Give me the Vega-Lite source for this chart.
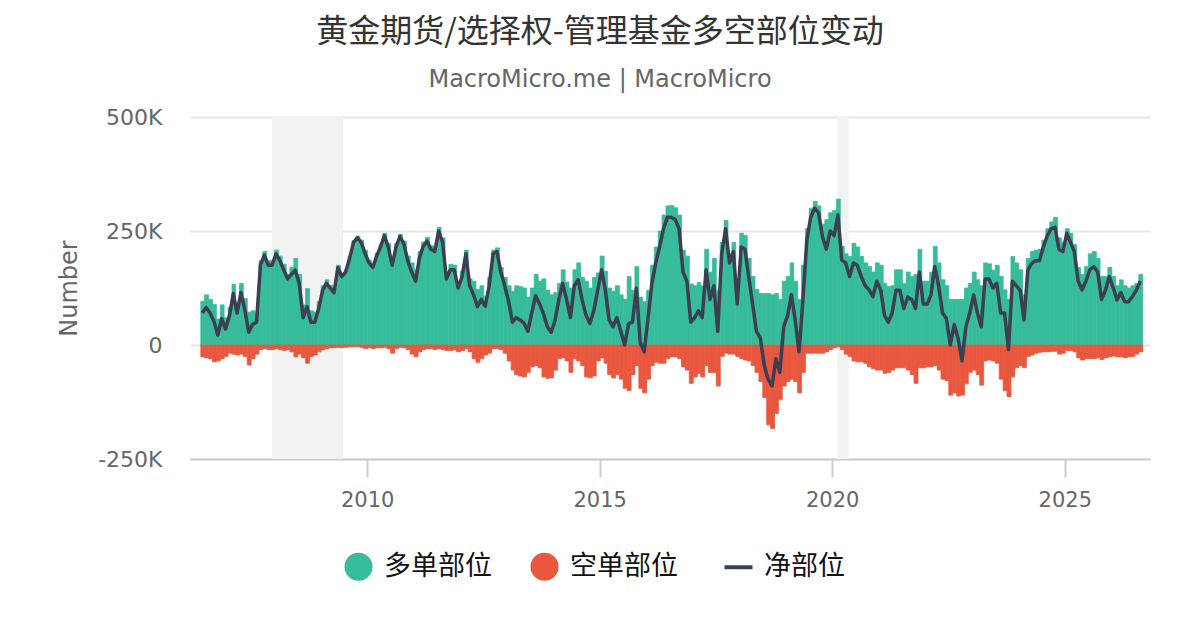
{
  "$schema": "https://vega.github.io/schema/vega-lite/v6.json",
  "width": 960,
  "height": 342,
  "autosize": "none",
  "padding": {"left": 190, "top": 117, "right": 50, "bottom": 171},
  "background": "white",
  "title": {
    "text": "黄金期货/选择权-管理基金多空部位变动",
    "subtitle": "MacroMicro.me | MacroMicro",
    "anchor": "middle",
    "dx": -70,
    "offset": 13,
    "font": "Noto Sans CJK SC",
    "fontSize": 32,
    "fontWeight": "normal",
    "color": "#333333",
    "subtitleFont": "DejaVu Sans",
    "subtitleFontSize": 24,
    "subtitleColor": "#666666",
    "subtitlePadding": 19
  },
  "datasets": {
    "recessions": [
      {"start": "2007-12-15", "end": "2009-06-25"},
      {"start": "2020-02-10", "end": "2020-05-10"}
    ],
    "cot": [
      {"date": "2006-06", "long": 96, "short": -26, "net": 70},
      {"date": "2006-07", "long": 110, "short": -28, "net": 82},
      {"date": "2006-08", "long": 100, "short": -30, "net": 70},
      {"date": "2006-09", "long": 89, "short": -37, "net": 52},
      {"date": "2006-10", "long": 57, "short": -35, "net": 22},
      {"date": "2006-11", "long": 88, "short": -30, "net": 58},
      {"date": "2006-12", "long": 60, "short": -25, "net": 35},
      {"date": "2007-01", "long": 83, "short": -18, "net": 65},
      {"date": "2007-02", "long": 133, "short": -20, "net": 113},
      {"date": "2007-03", "long": 92, "short": -22, "net": 70},
      {"date": "2007-04", "long": 135, "short": -20, "net": 115},
      {"date": "2007-05", "long": 102, "short": -25, "net": 77},
      {"date": "2007-06", "long": 72, "short": -44, "net": 28},
      {"date": "2007-07", "long": 75, "short": -30, "net": 45},
      {"date": "2007-08", "long": 70, "short": -20, "net": 50},
      {"date": "2007-09", "long": 185, "short": -10, "net": 175},
      {"date": "2007-10", "long": 205, "short": -8, "net": 197},
      {"date": "2007-11", "long": 185, "short": -10, "net": 175},
      {"date": "2007-12", "long": 185, "short": -10, "net": 175},
      {"date": "2008-01", "long": 208, "short": -8, "net": 200},
      {"date": "2008-02", "long": 195, "short": -10, "net": 185},
      {"date": "2008-03", "long": 177, "short": -12, "net": 165},
      {"date": "2008-04", "long": 155, "short": -10, "net": 145},
      {"date": "2008-05", "long": 170, "short": -15, "net": 155},
      {"date": "2008-06", "long": 190, "short": -26, "net": 164},
      {"date": "2008-07", "long": 155, "short": -20, "net": 135},
      {"date": "2008-08", "long": 88, "short": -28, "net": 60},
      {"date": "2008-09", "long": 124, "short": -40, "net": 84},
      {"date": "2008-10", "long": 75, "short": -25, "net": 50},
      {"date": "2008-11", "long": 72, "short": -22, "net": 50},
      {"date": "2008-12", "long": 95, "short": -15, "net": 80},
      {"date": "2009-01", "long": 130, "short": -10, "net": 120},
      {"date": "2009-02", "long": 143, "short": -8, "net": 135},
      {"date": "2009-03", "long": 131, "short": -6, "net": 125},
      {"date": "2009-04", "long": 121, "short": -6, "net": 115},
      {"date": "2009-05", "long": 175, "short": -5, "net": 170},
      {"date": "2009-06", "long": 156, "short": -6, "net": 150},
      {"date": "2009-07", "long": 165, "short": -5, "net": 160},
      {"date": "2009-08", "long": 194, "short": -4, "net": 190},
      {"date": "2009-09", "long": 229, "short": -4, "net": 225},
      {"date": "2009-10", "long": 239, "short": -4, "net": 235},
      {"date": "2009-11", "long": 230, "short": -5, "net": 225},
      {"date": "2009-12", "long": 208, "short": -8, "net": 200},
      {"date": "2010-01", "long": 186, "short": -6, "net": 180},
      {"date": "2010-02", "long": 178, "short": -8, "net": 170},
      {"date": "2010-03", "long": 201, "short": -6, "net": 195},
      {"date": "2010-04", "long": 221, "short": -6, "net": 215},
      {"date": "2010-05", "long": 245, "short": -5, "net": 240},
      {"date": "2010-06", "long": 223, "short": -8, "net": 215},
      {"date": "2010-07", "long": 193, "short": -18, "net": 175},
      {"date": "2010-08", "long": 223, "short": -8, "net": 215},
      {"date": "2010-09", "long": 243, "short": -5, "net": 238},
      {"date": "2010-10", "long": 228, "short": -6, "net": 222},
      {"date": "2010-11", "long": 195, "short": -10, "net": 185},
      {"date": "2010-12", "long": 180, "short": -20, "net": 160},
      {"date": "2011-01", "long": 166, "short": -26, "net": 140},
      {"date": "2011-02", "long": 205, "short": -15, "net": 190},
      {"date": "2011-03", "long": 226, "short": -10, "net": 216},
      {"date": "2011-04", "long": 236, "short": -8, "net": 228},
      {"date": "2011-05", "long": 218, "short": -8, "net": 210},
      {"date": "2011-06", "long": 215, "short": -10, "net": 205},
      {"date": "2011-07", "long": 258, "short": -8, "net": 250},
      {"date": "2011-08", "long": 235, "short": -10, "net": 225},
      {"date": "2011-09", "long": 157, "short": -12, "net": 145},
      {"date": "2011-10", "long": 177, "short": -12, "net": 165},
      {"date": "2011-11", "long": 175, "short": -10, "net": 165},
      {"date": "2011-12", "long": 140, "short": -15, "net": 125},
      {"date": "2012-01", "long": 162, "short": -12, "net": 150},
      {"date": "2012-02", "long": 208, "short": -8, "net": 200},
      {"date": "2012-03", "long": 145, "short": -15, "net": 130},
      {"date": "2012-04", "long": 140, "short": -30, "net": 110},
      {"date": "2012-05", "long": 122, "short": -38, "net": 84},
      {"date": "2012-06", "long": 130, "short": -30, "net": 100},
      {"date": "2012-07", "long": 107, "short": -22, "net": 85},
      {"date": "2012-08", "long": 148, "short": -18, "net": 130},
      {"date": "2012-09", "long": 208, "short": -8, "net": 200},
      {"date": "2012-10", "long": 213, "short": -8, "net": 205},
      {"date": "2012-11", "long": 170, "short": -10, "net": 160},
      {"date": "2012-12", "long": 148, "short": -18, "net": 130},
      {"date": "2013-01", "long": 130, "short": -35, "net": 95},
      {"date": "2013-02", "long": 118, "short": -55, "net": 50},
      {"date": "2013-03", "long": 130, "short": -65, "net": 60},
      {"date": "2013-04", "long": 128, "short": -68, "net": 55},
      {"date": "2013-05", "long": 125, "short": -70, "net": 48},
      {"date": "2013-06", "long": 105, "short": -60, "net": 30},
      {"date": "2013-07", "long": 125, "short": -48, "net": 70},
      {"date": "2013-08", "long": 155, "short": -45, "net": 108},
      {"date": "2013-09", "long": 140, "short": -50, "net": 90},
      {"date": "2013-10", "long": 145, "short": -70, "net": 69},
      {"date": "2013-11", "long": 120, "short": -73, "net": 40},
      {"date": "2013-12", "long": 110, "short": -72, "net": 28},
      {"date": "2014-01", "long": 115, "short": -55, "net": 55},
      {"date": "2014-02", "long": 135, "short": -30, "net": 100},
      {"date": "2014-03", "long": 165, "short": -28, "net": 135},
      {"date": "2014-04", "long": 138, "short": -35, "net": 100},
      {"date": "2014-05", "long": 125, "short": -60, "net": 60},
      {"date": "2014-06", "long": 165, "short": -30, "net": 130},
      {"date": "2014-07", "long": 180, "short": -35, "net": 143},
      {"date": "2014-08", "long": 148, "short": -45, "net": 99},
      {"date": "2014-09", "long": 140, "short": -70, "net": 65},
      {"date": "2014-10", "long": 125, "short": -72, "net": 47},
      {"date": "2014-11", "long": 148, "short": -68, "net": 75},
      {"date": "2014-12", "long": 158, "short": -35, "net": 120},
      {"date": "2015-01", "long": 195, "short": -28, "net": 165},
      {"date": "2015-02", "long": 162, "short": -40, "net": 120},
      {"date": "2015-03", "long": 125, "short": -65, "net": 55},
      {"date": "2015-04", "long": 118, "short": -72, "net": 40},
      {"date": "2015-05", "long": 130, "short": -65, "net": 60},
      {"date": "2015-06", "long": 110, "short": -75, "net": 30},
      {"date": "2015-07", "long": 100, "short": -95, "net": 0},
      {"date": "2015-08", "long": 150, "short": -100, "net": 47},
      {"date": "2015-09", "long": 120, "short": -65, "net": 50},
      {"date": "2015-10", "long": 172, "short": -45, "net": 125},
      {"date": "2015-11", "long": 105, "short": -95, "net": 5},
      {"date": "2015-12", "long": 95, "short": -105, "net": -15},
      {"date": "2016-01", "long": 120, "short": -75, "net": 60},
      {"date": "2016-02", "long": 175, "short": -45, "net": 135},
      {"date": "2016-03", "long": 215, "short": -38, "net": 180},
      {"date": "2016-04", "long": 250, "short": -40, "net": 215},
      {"date": "2016-05", "long": 285, "short": -40, "net": 255},
      {"date": "2016-06", "long": 305, "short": -30, "net": 280},
      {"date": "2016-07", "long": 306, "short": -26, "net": 280},
      {"date": "2016-08", "long": 301, "short": -26, "net": 275},
      {"date": "2016-09", "long": 285, "short": -30, "net": 255},
      {"date": "2016-10", "long": 208, "short": -48, "net": 160},
      {"date": "2016-11", "long": 195, "short": -55, "net": 140},
      {"date": "2016-12", "long": 134, "short": -84, "net": 50},
      {"date": "2017-01", "long": 130, "short": -70, "net": 60},
      {"date": "2017-02", "long": 137, "short": -62, "net": 75},
      {"date": "2017-03", "long": 130, "short": -70, "net": 60},
      {"date": "2017-04", "long": 210, "short": -45, "net": 165},
      {"date": "2017-05", "long": 160, "short": -60, "net": 100},
      {"date": "2017-06", "long": 190, "short": -60, "net": 130},
      {"date": "2017-07", "long": 120, "short": -90, "net": 30},
      {"date": "2017-08", "long": 225, "short": -25, "net": 200},
      {"date": "2017-09", "long": 273, "short": -18, "net": 255},
      {"date": "2017-10", "long": 200, "short": -20, "net": 180},
      {"date": "2017-11", "long": 225, "short": -20, "net": 205},
      {"date": "2017-12", "long": 115, "short": -25, "net": 90},
      {"date": "2018-01", "long": 245, "short": -30, "net": 215},
      {"date": "2018-02", "long": 240, "short": -33, "net": 210},
      {"date": "2018-03", "long": 190, "short": -35, "net": 150},
      {"date": "2018-04", "long": 150, "short": -45, "net": 90},
      {"date": "2018-05", "long": 122, "short": -60, "net": 30},
      {"date": "2018-06", "long": 113, "short": -80, "net": 15},
      {"date": "2018-07", "long": 113, "short": -115, "net": -45},
      {"date": "2018-08", "long": 113, "short": -175, "net": -75},
      {"date": "2018-09", "long": 110, "short": -183, "net": -90},
      {"date": "2018-10", "long": 113, "short": -150, "net": -30},
      {"date": "2018-11", "long": 100, "short": -120, "net": -60},
      {"date": "2018-12", "long": 140, "short": -90, "net": 40},
      {"date": "2019-01", "long": 150, "short": -80, "net": 65},
      {"date": "2019-02", "long": 180, "short": -75, "net": 110},
      {"date": "2019-03", "long": 140, "short": -80, "net": 55},
      {"date": "2019-04", "long": 100, "short": -105, "net": -15},
      {"date": "2019-05", "long": 175, "short": -60, "net": 100},
      {"date": "2019-06", "long": 255, "short": -18, "net": 230},
      {"date": "2019-07", "long": 300, "short": -18, "net": 280},
      {"date": "2019-08", "long": 315, "short": -18, "net": 300},
      {"date": "2019-09", "long": 305, "short": -18, "net": 290},
      {"date": "2019-10", "long": 265, "short": -18, "net": 238},
      {"date": "2019-11", "long": 275, "short": -15, "net": 210},
      {"date": "2019-12", "long": 290, "short": -10, "net": 250},
      {"date": "2020-01", "long": 295, "short": -6, "net": 240},
      {"date": "2020-02", "long": 320, "short": -4, "net": 285},
      {"date": "2020-03", "long": 216, "short": -10, "net": 186},
      {"date": "2020-04", "long": 200, "short": -20, "net": 180},
      {"date": "2020-05", "long": 194, "short": -25, "net": 150},
      {"date": "2020-06", "long": 223, "short": -35, "net": 180},
      {"date": "2020-07", "long": 215, "short": -37, "net": 175},
      {"date": "2020-08", "long": 194, "short": -37, "net": 150},
      {"date": "2020-09", "long": 180, "short": -40, "net": 130},
      {"date": "2020-10", "long": 172, "short": -48, "net": 121},
      {"date": "2020-11", "long": 160, "short": -52, "net": 106},
      {"date": "2020-12", "long": 180, "short": -55, "net": 140},
      {"date": "2021-01", "long": 175, "short": -55, "net": 120},
      {"date": "2021-02", "long": 135, "short": -62, "net": 65},
      {"date": "2021-03", "long": 128, "short": -60, "net": 50},
      {"date": "2021-04", "long": 130, "short": -55, "net": 70},
      {"date": "2021-05", "long": 165, "short": -50, "net": 120},
      {"date": "2021-06", "long": 165, "short": -50, "net": 120},
      {"date": "2021-07", "long": 135, "short": -50, "net": 80},
      {"date": "2021-08", "long": 160, "short": -55, "net": 105},
      {"date": "2021-09", "long": 150, "short": -65, "net": 100},
      {"date": "2021-10", "long": 155, "short": -84, "net": 80},
      {"date": "2021-11", "long": 210, "short": -50, "net": 160},
      {"date": "2021-12", "long": 140, "short": -50, "net": 90},
      {"date": "2022-01", "long": 140, "short": -48, "net": 90},
      {"date": "2022-02", "long": 160, "short": -48, "net": 110},
      {"date": "2022-03", "long": 216, "short": -45, "net": 172},
      {"date": "2022-04", "long": 180, "short": -55, "net": 130},
      {"date": "2022-05", "long": 143, "short": -75, "net": 70},
      {"date": "2022-06", "long": 130, "short": -78, "net": 58},
      {"date": "2022-07", "long": 100, "short": -110, "net": 0},
      {"date": "2022-08", "long": 100, "short": -105, "net": 45},
      {"date": "2022-09", "long": 100, "short": -112, "net": 15},
      {"date": "2022-10", "long": 100, "short": -110, "net": -35},
      {"date": "2022-11", "long": 125, "short": -85, "net": 40},
      {"date": "2022-12", "long": 135, "short": -60, "net": 70},
      {"date": "2023-01", "long": 160, "short": -55, "net": 110},
      {"date": "2023-02", "long": 143, "short": -65, "net": 70},
      {"date": "2023-03", "long": 130, "short": -88, "net": 40},
      {"date": "2023-04", "long": 180, "short": -35, "net": 145},
      {"date": "2023-05", "long": 178, "short": -33, "net": 145},
      {"date": "2023-06", "long": 164, "short": -35, "net": 125},
      {"date": "2023-07", "long": 175, "short": -40, "net": 135},
      {"date": "2023-08", "long": 150, "short": -75, "net": 70},
      {"date": "2023-09", "long": 121, "short": -100, "net": 70},
      {"date": "2023-10", "long": 100, "short": -113, "net": -10},
      {"date": "2023-11", "long": 194, "short": -70, "net": 140},
      {"date": "2023-12", "long": 180, "short": -50, "net": 130},
      {"date": "2024-01", "long": 165, "short": -45, "net": 120},
      {"date": "2024-02", "long": 110, "short": -50, "net": 55},
      {"date": "2024-03", "long": 190, "short": -25, "net": 164},
      {"date": "2024-04", "long": 205, "short": -22, "net": 179},
      {"date": "2024-05", "long": 208, "short": -18, "net": 185},
      {"date": "2024-06", "long": 210, "short": -16, "net": 185},
      {"date": "2024-07", "long": 230, "short": -15, "net": 215},
      {"date": "2024-08", "long": 255, "short": -15, "net": 240},
      {"date": "2024-09", "long": 270, "short": -14, "net": 255},
      {"date": "2024-10", "long": 280, "short": -14, "net": 258},
      {"date": "2024-11", "long": 235, "short": -20, "net": 210},
      {"date": "2024-12", "long": 225, "short": -18, "net": 205},
      {"date": "2025-01", "long": 255, "short": -12, "net": 245},
      {"date": "2025-02", "long": 245, "short": -12, "net": 225},
      {"date": "2025-03", "long": 220, "short": -15, "net": 205},
      {"date": "2025-04", "long": 170, "short": -28, "net": 140},
      {"date": "2025-05", "long": 155, "short": -33, "net": 121},
      {"date": "2025-06", "long": 172, "short": -30, "net": 140},
      {"date": "2025-07", "long": 200, "short": -30, "net": 165},
      {"date": "2025-08", "long": 205, "short": -30, "net": 172},
      {"date": "2025-09", "long": 190, "short": -28, "net": 160},
      {"date": "2025-10", "long": 150, "short": -32, "net": 100},
      {"date": "2025-11", "long": 150, "short": -28, "net": 120},
      {"date": "2025-12", "long": 170, "short": -26, "net": 150},
      {"date": "2026-01", "long": 150, "short": -24, "net": 125},
      {"date": "2026-02", "long": 130, "short": -26, "net": 99},
      {"date": "2026-03", "long": 143, "short": -26, "net": 115},
      {"date": "2026-04", "long": 130, "short": -28, "net": 95},
      {"date": "2026-05", "long": 125, "short": -26, "net": 95},
      {"date": "2026-06", "long": 130, "short": -25, "net": 106},
      {"date": "2026-07", "long": 135, "short": -20, "net": 120},
      {"date": "2026-08", "long": 155, "short": -15, "net": 140}
    ]
  },
  "layer": [
    {
      "data": {"name": "recessions"},
      "mark": {"type": "rect", "color": "#f2f2f2"},
      "encoding": {
        "x": {
          "field": "start",
          "type": "temporal",
          "scale": {"type": "utc", "domain": ["2006-03-12", "2026-11-01"]},
          "axis": {
            "title": null,
            "grid": false,
            "values": [
              {"year": 2010, "utc": true},
              {"year": 2015, "utc": true},
              {"year": 2020, "utc": true},
              {"year": 2025, "utc": true}
            ],
            "labelExpr": "utcFormat(datum.value, '%Y')",
            "domainColor": "#cccccc",
            "domainWidth": 2,
            "tickColor": "#cccccc",
            "tickWidth": 2,
            "tickSize": 18,
            "labelPadding": 12,
            "labelFont": "DejaVu Sans",
            "labelFontSize": 21,
            "labelColor": "#666666"
          }
        },
        "x2": {"field": "end"}
      }
    },
    {
      "data": {"name": "cot"},
      "transform": [{"fold": ["long", "short"], "as": ["series", "value"]}],
      "mark": {"type": "bar", "binSpacing": 0, "strokeWidth": 0.8},
      "encoding": {
        "x": {"field": "date", "timeUnit": "utcyearmonth", "type": "temporal"},
        "y": {
          "field": "value",
          "type": "quantitative",
          "stack": null,
          "scale": {"domain": [-250, 500], "nice": false},
          "axis": {
            "title": "Number",
            "values": [-250, 0, 250, 500],
            "labelExpr": "datum.value === 0 ? '0' : datum.value + 'K'",
            "domain": false,
            "ticks": false,
            "labelPadding": 28,
            "gridColor": "#e6e6e6",
            "gridWidth": 2,
            "labelFont": "DejaVu Sans",
            "labelFontSize": 22,
            "labelColor": "#666666",
            "titleFont": "DejaVu Sans",
            "titleFontSize": 24,
            "titleFontWeight": "normal",
            "titleColor": "#666666",
            "titlePadding": 16
          }
        },
        "stroke": {
          "field": "series",
          "type": "nominal",
          "scale": {"domain": ["long", "short"], "range": ["#37bc9b", "#e9573f"]},
          "legend": null
        },
        "color": {
          "field": "series",
          "type": "nominal",
          "scale": {"domain": ["long", "short", "net"], "range": ["#37bc9b", "#e9573f", "#3b3f51"]},
          "legend": {
            "title": null,
            "orient": "none",
            "legendX": 155,
            "legendY": 436,
            "direction": "horizontal",
            "labelExpr": "{'long': '多单部位', 'short': '空单部位', 'net': '净部位'}[datum.label]",
            "labelFont": "Noto Sans CJK SC",
            "labelFontSize": 27,
            "labelColor": "#111111",
            "labelOffset": 12,
            "columnPadding": 38,
            "symbolSize": 784,
            "symbolType": "circle",
            "encode": {
              "symbols": {
                "update": {
                  "shape": {"signal": "datum.value === 'net' ? 'stroke' : 'circle'"},
                  "fill": {"signal": "scale('color', datum.value)"},
                  "stroke": {"signal": "scale('color', datum.value)"},
                  "strokeWidth": {"signal": "datum.value === 'net' ? 4 : 0"},
                  "opacity": {"value": 1}
                }
              }
            }
          }
        }
      }
    },
    {
      "data": {"name": "cot"},
      "mark": {"type": "line", "strokeWidth": 3.5, "strokeJoin": "round"},
      "encoding": {
        "x": {"field": "date", "timeUnit": "utcyearmonth", "type": "temporal", "bandPosition": 0.5},
        "y": {"field": "net", "type": "quantitative"},
        "color": {"datum": "net"}
      }
    }
  ],
  "config": {
    "view": {"stroke": null},
    "font": "DejaVu Sans"
  }
}
